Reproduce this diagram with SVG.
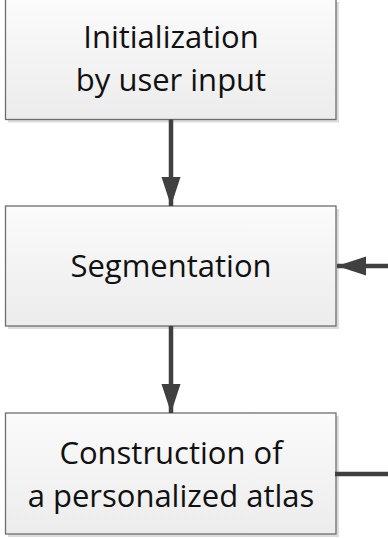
<svg xmlns="http://www.w3.org/2000/svg" width="388" height="538" viewBox="0 0 388 538">
<defs>
<linearGradient id="g" x1="0" y1="0" x2="0" y2="1">
<stop offset="0" stop-color="#fbfbfb"/>
<stop offset="1" stop-color="#ececec"/>
</linearGradient>
<marker id="ah" markerUnits="userSpaceOnUse" markerWidth="30" markerHeight="20" refX="29" refY="9.5" orient="auto" viewBox="0 0 30 19">
<path d="M0,0 L29,9.5 L0,19 Z" fill="#404040"/>
</marker>
<style>
.shadow{fill:#dcdcdc}
.box{fill:url(#g);stroke:#6e6e6e;stroke-width:1.3}
.t{font-family:"Open Sans","Liberation Sans",sans-serif;font-size:31px;fill:#111111;text-anchor:middle}
.c{stroke:#404040;stroke-width:4.5;fill:none}
</style>
</defs>
<g id="node-init">
<rect class="shadow" x="8" y="2" width="331" height="120.5"/>
<rect class="box" x="5.5" y="-1" width="330.5" height="120.5"/>
<text class="t" x="171" y="48">Initialization</text>
<text class="t" x="171" y="91">by user input</text>
</g>
<g id="node-seg">
<rect class="shadow" x="8" y="209" width="331" height="120"/>
<rect class="box" x="5.5" y="206" width="330.5" height="120"/>
<text class="t" x="171" y="277">Segmentation</text>
</g>
<g id="node-atlas">
<rect class="shadow" x="8" y="416" width="331" height="121"/>
<rect class="box" x="5.5" y="413" width="330.5" height="121"/>
<text class="t" x="171" y="464">Construction of</text>
<text class="t" x="171" y="507">a personalized atlas</text>
</g>
<g id="connectors">
<line class="c" x1="171" y1="119.5" x2="171" y2="206" marker-end="url(#ah)"/>
<line class="c" x1="171" y1="326" x2="171" y2="413" marker-end="url(#ah)"/>
<line class="c" x1="388" y1="266" x2="337" y2="266" marker-end="url(#ah)"/>
<line class="c" x1="335" y1="474" x2="388" y2="474"/>
</g>
</svg>
